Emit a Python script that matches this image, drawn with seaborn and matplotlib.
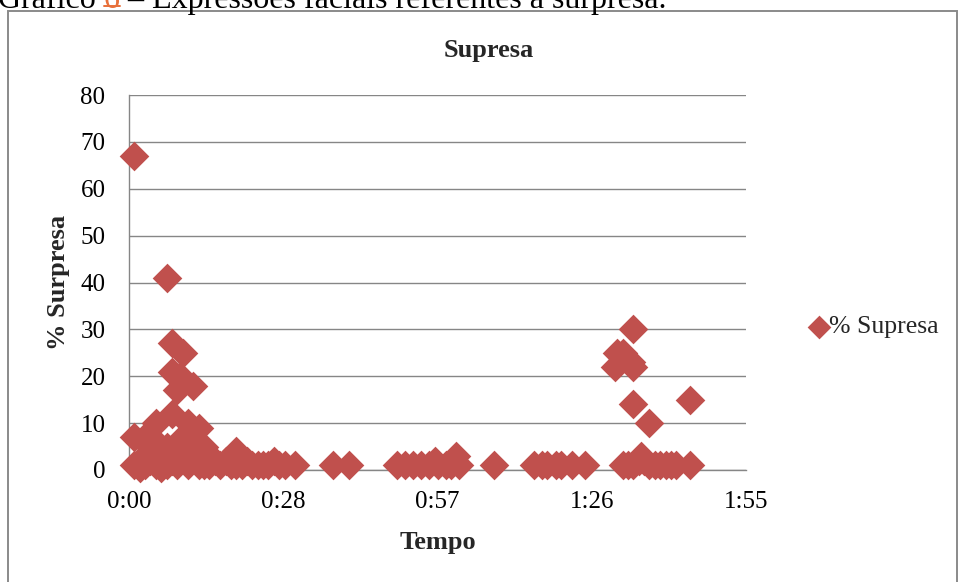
import matplotlib
matplotlib.use("Agg")
import matplotlib.pyplot as plt
from matplotlib.patches import Rectangle
from matplotlib.lines import Line2D
import numpy as np
import pandas as pd
import seaborn as sns

# Facial-expression samples: time in seconds and surprise percentage
tempo_s = [
    1, 1, 1, 2, 2, 3, 3, 3, 4, 4, 5, 5, 5, 6, 6, 6, 7, 7, 7,
    8, 8, 8, 8, 9, 9.5, 9, 10, 10, 10, 11, 11, 11, 12, 12, 12,
    13, 13, 13, 14, 14, 15, 15, 16, 17, 18, 19, 20, 20, 21, 22,
    23, 24, 25, 26, 27, 28, 29, 31,
    38, 41,
    50, 51.5, 53, 54.5, 56, 57, 57.5, 59, 60, 61, 61.5,
    68,
    75.5, 77, 78, 79.5, 80.5, 82.5, 85,
    90.5, 91, 92, 93.5, 94, 94, 94, 97, 104.5,
    92, 93, 94, 95, 95.5, 96, 97, 98, 99, 100, 101, 102, 104.5,
]
surpresa_pct = [
    67, 7, 1, 2, 0.5, 7, 3, 1, 5, 2, 10, 6, 1, 4, 2, 0.5, 41, 5, 1,
    27, 21, 12, 2, 17, 20, 1, 25, 7, 3, 10, 2, 1, 18, 6, 3,
    9, 4, 1, 5, 1, 3, 1, 2, 1, 2, 1, 4, 1, 1, 2,
    1, 1, 1, 1, 2, 1, 1, 1,
    1, 1,
    1, 1, 1, 1, 1, 2, 1, 1, 1, 3, 1,
    1,
    1, 1, 1, 1, 1, 1, 1,
    22, 25, 25, 23, 22, 30, 14, 10, 15,
    1, 1, 1, 2, 3, 2, 1, 1, 1, 1, 1, 1, 1,
]

x_tick_labels = ["0:00", "0:28", "0:57", "1:26", "1:55"]
x_max_s = 115
y_ticks = [0, 10, 20, 30, 40, 50, 60, 70, 80]

df = pd.DataFrame({"Tempo": tempo_s, "Surpresa": surpresa_pct})

sns.set_style("white")
plt.rcParams["font.family"] = ["Liberation Serif", "DejaVu Serif"]

RED = "#C0504D"
GRID = "#868686"

W, H = 960, 582
fig = plt.figure(figsize=(W / 100, H / 100), dpi=100)
ax = fig.add_axes([129 / W, 1 - 470 / H, 617 / W, 375 / H])

sns.scatterplot(data=df, x="Tempo", y="Surpresa", marker="D", s=228,
                color=RED, linewidth=0, ax=ax, clip_on=False,
                label="% Supresa", zorder=3)
if ax.get_legend() is not None:
    ax.get_legend().remove()

ax.set_xlim(0, x_max_s)
ax.set_ylim(0, 80)
ax.set_xticks(np.linspace(0, x_max_s, len(x_tick_labels)))
ax.set_xticklabels(x_tick_labels)
ax.set_yticks(y_ticks)
ax.tick_params(axis="both", length=0, labelsize=18, colors="black")
ax.tick_params(axis="y", pad=17)
ax.tick_params(axis="x", pad=15)

ax.set_axisbelow(True)
ax.yaxis.grid(True, color=GRID, linewidth=1.0)
ax.xaxis.grid(False)
for side in ("top", "right"):
    ax.spines[side].set_visible(False)
for side in ("left", "bottom"):
    ax.spines[side].set_color(GRID)
    ax.spines[side].set_linewidth(1.0)

ax.set_xlabel("Tempo", fontsize=19, fontweight="bold", va="center")
ax.xaxis.set_label_coords(0.5, -(543 - 470) / 375)
ax.set_ylabel("% Surpresa", fontsize=19, fontweight="bold", va="center")
ax.yaxis.set_label_coords(-(129 - 58) / 617, 0.5)

fig.text(489 / W, 1 - 50 / H, "Supresa", ha="center", va="center",
         fontsize=19, fontweight="bold")

handles, labels = ax.get_legend_handles_labels()
fig.legend(handles, labels, loc="center left",
           bbox_to_anchor=(807 / W, 1 - 327 / H), frameon=False,
           markerscale=0.8, handletextpad=-0.05, handlelength=0.9,
           borderpad=0, borderaxespad=0, fontsize=18.5)

# Chart frame
fig.add_artist(Rectangle((8 / W, -0.05), (957 - 8) / W, 1.05 - 11 / H,
                         transform=fig.transFigure, fill=False,
                         edgecolor="#8a8a8a", linewidth=1.4))

# Document caption above the chart (partly outside the canvas)
t1 = fig.text(-2 / W, 1 - 8 / H, "Gráfico ", color="black",
              fontsize=23, va="baseline")
fig.canvas.draw()
bb1 = t1.get_window_extent()
t2 = fig.text(bb1.x1 / W, bb1.y0 / H, "6", color="#E8703A",
              fontsize=23, va="bottom")
fig.canvas.draw()
bb2 = t2.get_window_extent()
fig.text(bb2.x1 / W, bb2.y0 / H,
         " – Expressões faciais referentes à surpresa.",
         color="black", fontsize=23, va="bottom")
fig.add_artist(Line2D([bb2.x0 / W, bb2.x1 / W], [1 - 6 / H, 1 - 6 / H],
                      transform=fig.transFigure, color="#E8703A",
                      linewidth=1.4))

fig.savefig("out.png", dpi=100)
